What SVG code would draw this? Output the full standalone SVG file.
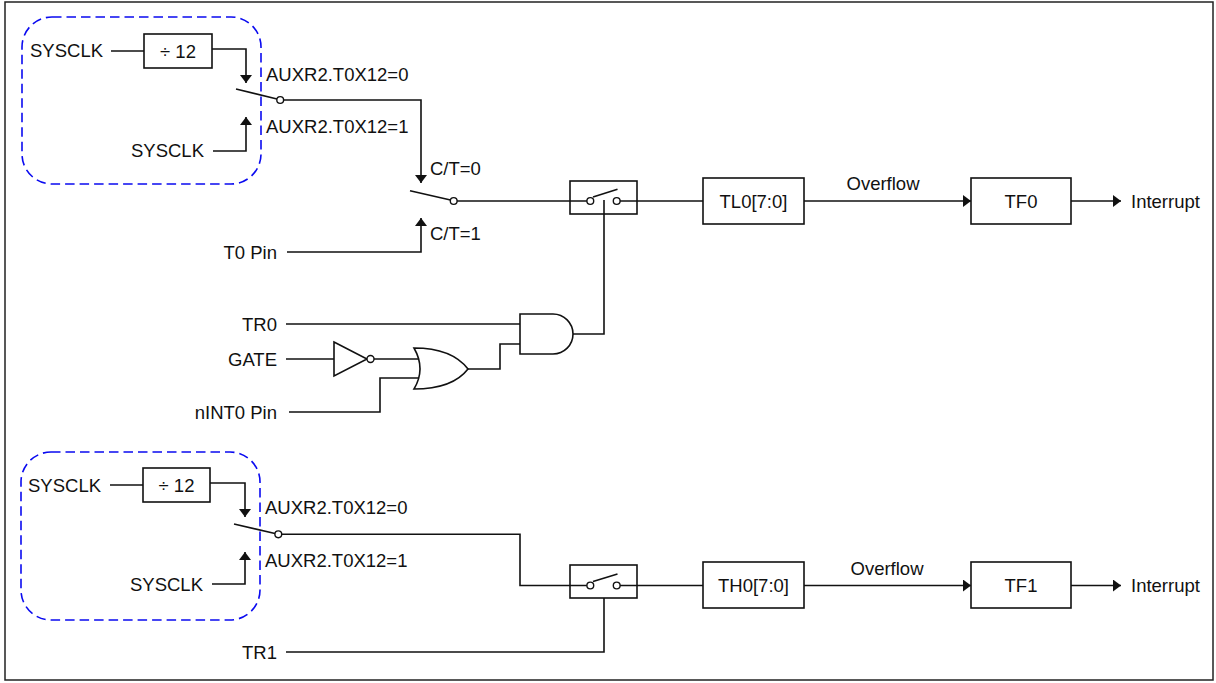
<svg xmlns="http://www.w3.org/2000/svg" width="1216" height="683" viewBox="0 0 1216 683">
<style>
text{font-family:"Liberation Sans",Arial,sans-serif;font-size:18.5px;fill:#111}
.w{fill:none;stroke:#111;stroke-width:1.6}
.b{fill:#fff;stroke:#111;stroke-width:1.6}
.d{fill:none;stroke:#0a0af0;stroke-width:1.6;stroke-dasharray:9.5 5}
.c{fill:#fff;stroke:#111;stroke-width:1.4}
.m{text-anchor:middle}
.e{text-anchor:end}
</style>
<defs>
<marker id="arr" viewBox="0 0 8 12" refX="8" refY="6" markerWidth="8" markerHeight="12" markerUnits="userSpaceOnUse" orient="auto">
<path d="M0,0 L8,6 L0,12 Z" fill="#111"/>
</marker>
</defs>
<rect x="5" y="2" width="1208" height="678" fill="#fff" stroke="#222" stroke-width="1.5"/>

<g id="clkgrp0"><rect class="d" x="22" y="17" width="239" height="167" rx="30"/></g>
<g id="clkgrp1"><rect class="d" x="21" y="452" width="239" height="168" rx="30"/></g>

<g id="connectors">
<path class="w" d="M111,51 H144"/>
<path class="w" d="M212,49 H246 V83" marker-end="url(#arr)"/>
<path class="w" d="M213,151 H246 V117" marker-end="url(#arr)"/>
<path class="w" d="M236,89 L277,99"/>
<path class="w" d="M283.5,100 H421 V183" marker-end="url(#arr)"/>
<path class="w" d="M287,252 H421 V218" marker-end="url(#arr)"/>
<path class="w" d="M410,190.7 L450.5,200"/>
<path class="w" d="M457,201 H570"/>
<path class="w" d="M637,201 H703"/>
<path class="w" d="M804,201 H971" marker-end="url(#arr)"/>
<path class="w" d="M1071,201 H1121" marker-end="url(#arr)"/>
<path class="w" d="M286,324 H520"/>
<path class="w" d="M286,359 H334"/>
<path class="w" d="M374,359 H418"/>
<path class="w" d="M289,412 H380 V378 H419"/>
<path class="w" d="M468,369 H500 V344 H520"/>
<path class="w" d="M573,334 H604 V201"/>
<path class="w" d="M110,485 H143"/>
<path class="w" d="M210,483 H245 V517" marker-end="url(#arr)"/>
<path class="w" d="M212,584 H245 V552" marker-end="url(#arr)"/>
<path class="w" d="M234,524 L275,533.5"/>
<path class="w" d="M281.7,534.3 H520 V585.5 H570"/>
<path class="w" d="M637,585.5 H703"/>
<path class="w" d="M804,585.5 H971" marker-end="url(#arr)"/>
<path class="w" d="M1071,585.5 H1121" marker-end="url(#arr)"/>
<path class="w" d="M286,652 H604 V585.5"/>
</g>

<g id="div0"><rect class="b" x="144" y="34" width="68" height="34"/><text class="m" x="178" y="57.5">÷ 12</text></g>
<g id="sw0"><circle class="c" cx="280.2" cy="100" r="3.4"/></g>
<g id="sw1"><circle class="c" cx="453.7" cy="201" r="3.4"/></g>
<g id="gate0">
<rect class="b" x="570" y="181" width="67" height="33"/>
<path class="w" d="M570,201 H587 M620,201 H637"/>
<circle class="c" cx="590.3" cy="201" r="3.4"/>
<circle class="c" cx="616.7" cy="201" r="3.4"/>
<path class="w" d="M593,197 L617.5,189.3"/>
<path class="w" d="M604,200 V214"/>
</g>
<g id="tl0"><rect class="b" x="703" y="178" width="101" height="46"/><text class="m" x="753.5" y="207.6">TL0[7:0]</text></g>
<g id="tf0"><rect class="b" x="971" y="178" width="100" height="46"/><text class="m" x="1021" y="207.6">TF0</text></g>
<g id="and0"><path class="b" d="M520,314 H553 A20,20 0 0 1 553,354 H520 Z"/></g>
<g id="not0"><polygon class="b" points="334,342 367,359 334,376"/><circle class="c" cx="370.5" cy="359" r="3.5"/></g>
<g id="or0"><path class="b" d="M414,348 C440,348 458,356 468,369 C458,382 440,389 414,389 Q426,369 414,348 Z"/></g>

<g id="div1"><rect class="b" x="143" y="468" width="67" height="34"/><text class="m" x="176.5" y="491.7">÷ 12</text></g>
<g id="sw2"><circle class="c" cx="278.3" cy="534.3" r="3.4"/></g>
<g id="gate1">
<rect class="b" x="570" y="565" width="67" height="33"/>
<path class="w" d="M570,585.5 H587 M620,585.5 H637"/>
<circle class="c" cx="590.3" cy="585.5" r="3.4"/>
<circle class="c" cx="616.7" cy="585.5" r="3.4"/>
<path class="w" d="M593,581.5 L617.5,574"/>
</g>
<g id="th0"><rect class="b" x="703" y="562" width="101" height="46"/><text class="m" x="753.5" y="591.6">TH0[7:0]</text></g>
<g id="tf1"><rect class="b" x="971" y="562" width="100" height="46"/><text class="m" x="1021" y="591.6">TF1</text></g>

<g id="labels">
<text x="30" y="57.3">SYSCLK</text>
<text class="e" x="204" y="157.3">SYSCLK</text>
<text x="266" y="81">AUXR2.T0X12=0</text>
<text x="266" y="133">AUXR2.T0X12=1</text>
<text x="430" y="175">C/T=0</text>
<text x="430" y="240">C/T=1</text>
<text class="e" x="277" y="258.5">T0 Pin</text>
<text class="e" x="277" y="330.5">TR0</text>
<text class="e" x="277" y="365.5">GATE</text>
<text class="e" x="277" y="418.5">nINT0 Pin</text>
<text class="m" x="883" y="190">Overflow</text>
<text x="1131" y="207.5">Interrupt</text>
<text x="28" y="491.7">SYSCLK</text>
<text class="e" x="203" y="590.7">SYSCLK</text>
<text x="265" y="514">AUXR2.T0X12=0</text>
<text x="265" y="567">AUXR2.T0X12=1</text>
<text class="e" x="277" y="658.5">TR1</text>
<text class="m" x="887" y="575">Overflow</text>
<text x="1131" y="591.5">Interrupt</text>
</g>
</svg>
